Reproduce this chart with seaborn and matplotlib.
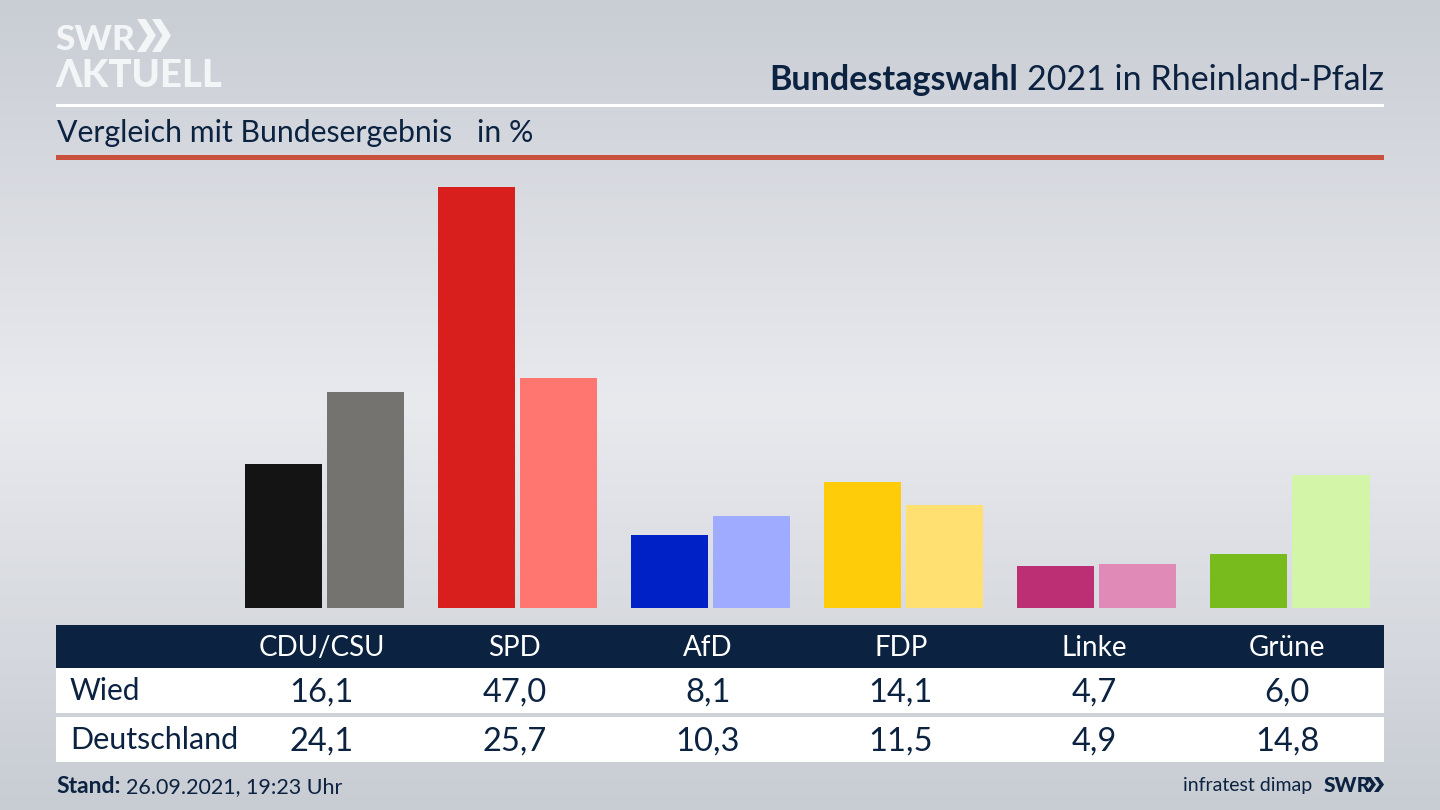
import numpy as np
import pandas as pd
import matplotlib
matplotlib.use("Agg")
import matplotlib.pyplot as plt
import seaborn as sns
from matplotlib.patches import Rectangle, Polygon
from matplotlib.colors import LinearSegmentedColormap
from matplotlib.transforms import blended_transform_factory

# values
parties = ["CDU/CSU", "SPD", "AfD", "FDP", "Linke", "Grüne"]
wied = [16.1, 47.0, 8.1, 14.1, 4.7, 6.0]
deutschland = [24.1, 25.7, 10.3, 11.5, 4.9, 14.8]
wied_labels = ["16,1", "47,0", "8,1", "14,1", "4,7", "6,0"]
deutschland_labels = ["24,1", "25,7", "10,3", "11,5", "4,9", "14,8"]
wied_colors = ["#141414", "#d81f1d", "#0021c6", "#ffcc0a", "#bc2f75", "#78bb1d"]
deutschland_colors = ["#757370", "#ff7570", "#9fabff", "#ffe070", "#e08ab8", "#d3f5a8"]

navy = "#0b2240"
W, H = 1440, 810

sns.set_theme(style="white")
plt.rcParams["font.family"] = ["Lato", "DejaVu Sans"]

fig = plt.figure(figsize=(14.4, 8.1), dpi=100)


def fx(px):
    return px / W


def fy(py):
    return 1 - py / H


# background gradient
bg = fig.add_axes([0, 0, 1, 1], zorder=0)
bg_cmap = LinearSegmentedColormap.from_list(
    "bg", [(0, "#c9cdd4"), (0.5, "#e9eaee"), (1, "#c8ccd3")]
)
bg.imshow(np.linspace(0, 1, 256).reshape(-1, 1), aspect="auto", cmap=bg_cmap,
          extent=[0, W, H, 0])
bg.set_axis_off()
bg.set_xlim(0, W)
bg.set_ylim(H, 0)

# bands and lines
bg.add_patch(Rectangle((56, 104), 1328, 3, color="white", lw=0))
bg.add_patch(Rectangle((56, 155), 1328, 5, color="#c9503f", lw=0))
bg.add_patch(Rectangle((56, 625), 1328, 43, color=navy, lw=0))
bg.add_patch(Rectangle((56, 668), 1328, 45, color="white", lw=0))
bg.add_patch(Rectangle((56, 717), 1328, 45, color="white", lw=0))

# bars
df = pd.DataFrame({
    "party": parties * 2,
    "value": wied + deutschland,
    "series": ["Wied"] * 6 + ["Deutschland"] * 6,
})
ax = fig.add_axes([fx(56), fy(608), fx(1328), (608 - 187) / H], zorder=1)
ax.patch.set_alpha(0)
sns.barplot(data=df, x="party", y="value", hue="series", order=parties,
            width=0.85, gap=0.06, legend=False, ax=ax, saturation=1)
for bar, color in zip(ax.patches, wied_colors + deutschland_colors):
    bar.set_facecolor(color)
    bar.set_edgecolor("none")
ax.set_xlim(-1.39, 5.487)
ax.set_ylim(0, 47)
ax.set_axis_off()

# table text, columns follow the bar categories
trans = blended_transform_factory(ax.transData, fig.transFigure)
for i, party in enumerate(parties):
    ax.text(i - 0.015, fy(656), party, transform=trans, ha="center", va="baseline",
            color="white", fontsize=20, clip_on=False)
    ax.text(i - 0.015, fy(702), wied_labels[i], transform=trans, ha="center",
            va="baseline", color=navy, fontsize=23.5, clip_on=False)
    ax.text(i - 0.015, fy(751), deutschland_labels[i], transform=trans, ha="center",
            va="baseline", color=navy, fontsize=23.5, clip_on=False)

fig.text(fx(70), fy(700), "Wied", color=navy, fontsize=21.5, va="baseline", zorder=3)
fig.text(fx(70), fy(749), "Deutschland", color=navy, fontsize=22, va="baseline", zorder=3)

# header texts
title = fig.text(fx(1384), fy(90), "2021 in Rheinland-Pfalz", color=navy, fontsize=24.5,
                 ha="right", va="baseline", zorder=3)
renderer = fig.canvas.get_renderer()
title_box = title.get_window_extent(renderer)
fig.text(title_box.x0 / W - fx(9), fy(90), "Bundestagswahl", color=navy, fontsize=24.5,
         fontweight="bold", ha="right", va="baseline", zorder=3)
fig.text(fx(57), fy(142), "Vergleich mit Bundesergebnis", color=navy, fontsize=21.8,
         va="baseline", zorder=3)
fig.text(fx(477), fy(142), "in %", color=navy, fontsize=21.8, va="baseline", zorder=3)

# footer
fig.text(fx(56), fy(793), "Stand:", color=navy, fontsize=16.5, fontweight="bold",
         va="baseline", zorder=3)
fig.text(fx(126), fy(793), "26.09.2021, 19:23 Uhr", color=navy, fontsize=15.5,
         va="baseline", zorder=3)
fig.text(fx(1312), fy(791), "infratest dimap", color=navy, fontsize=14, ha="right",
         va="baseline", zorder=3)
fig.text(fx(1324), fy(792), "SWR", color=navy, fontsize=15, fontweight="black",
         va="baseline", zorder=3)


def chevrons(x, y, h, w, step, color):
    # double arrow of the logo
    for k in range(2):
        x0 = x + k * step
        pts = [(x0, y), (x0 + w * 0.45, y), (x0 + w, y + h / 2),
               (x0 + w * 0.45, y + h), (x0, y + h), (x0 + w * 0.55, y + h / 2)]
        bg.add_patch(Polygon(pts, closed=True, color=color, lw=0))


chevrons(1366, 777, 15, 10, 8, navy)

# logo
fig.text(fx(55), fy(50), "SWR", color="#f4f5f7", fontsize=25.5, fontweight="black",
         va="baseline", zorder=3)
chevrons(137, 19, 33, 19, 15, "#f4f5f7")
fig.text(fx(55), fy(87), "ΛKTUELL", color="#f4f5f7", fontsize=27.5, fontweight="black",
         va="baseline", zorder=3)

fig.savefig("out.png", dpi=100)
